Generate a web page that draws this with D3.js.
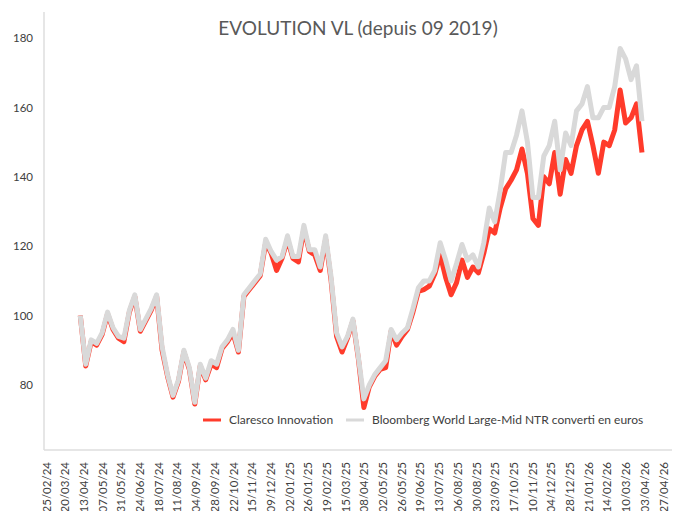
<!DOCTYPE html>
<html>
<head>
<meta charset="utf-8">
<script src="https://cdn.jsdelivr.net/npm/d3@7"></script>
<style>
  body { margin: 0; background: #fff; }
  svg { display: block; font-family: Lato, "Open Sans", sans-serif; }
</style>
</head>
<body>
<script>
// weekly points, first one on 09/04/2024
const startDate = "09/04/24"

const claresco = [
  100, 85.5, 92.5, 91.5, 94.5, 100.5, 96, 93.5, 92.5, 101,
  105.5, 95.5, 98.5, 101.5, 105.5, 90, 82.5, 76.5, 81, 89.5,
  84.5, 74.5, 85.5, 81.5, 86, 85, 90.5, 92.5, 95, 89.5,
  105.5, 107.5, 109.5, 111.5, 121, 118, 113, 116.5, 122, 116.5,
  115.5, 125, 118.5, 117.5, 113, 122, 110, 94, 89.5, 93.5,
  98.5, 87.5, 73.5, 79.5, 82.5, 84.5, 85, 95.5, 91.5, 94,
  96, 101, 107, 107.5, 108.5, 112, 117.5, 111, 106, 109.5,
  116, 111, 114, 112.3, 118, 125, 123.8, 131, 136.5, 139,
  142, 148, 141, 128, 126, 140, 138, 147, 135, 145,
  141, 149, 153.5, 156, 149, 141, 150, 149, 153.5, 165,
  155.5, 157, 161, 147
]

const bloomberg = [
  100, 86, 93, 92, 95, 101, 96.5, 94, 93.5, 101.5,
  106, 96, 99, 102, 106, 91, 83, 77, 81.5, 90,
  85, 75, 86, 82, 87, 86, 91, 93, 96, 90,
  106, 108, 110, 112, 122, 118.5, 116, 117, 123, 117,
  117, 126, 119, 119, 114, 123, 111, 95, 91, 94,
  99, 88, 76, 80, 83, 85, 87, 96, 93, 95,
  96.5, 102, 108, 110, 110, 113, 121, 116, 110, 115,
  120.5, 116, 117.5, 114, 121, 131, 127, 136, 147, 147,
  152, 159, 150, 134, 134, 146, 149, 156, 142, 152.6,
  149, 159, 161, 166, 157, 157, 160, 160, 166, 177,
  174, 168, 172, 156
]

const xTickLabels = [
  "25/02/24", "20/03/24", "13/04/24", "07/05/24", "31/05/24", "24/06/24",
  "18/07/24", "11/08/24", "04/09/24", "28/09/24", "22/10/24", "15/11/24",
  "09/12/24", "02/01/25", "26/01/25", "19/02/25", "15/03/25", "08/04/25",
  "02/05/25", "26/05/25", "19/06/25", "13/07/25", "06/08/25", "30/08/25",
  "23/09/25", "17/10/25", "10/11/25", "04/12/25", "28/12/25", "21/01/26",
  "14/02/26", "10/03/26", "03/04/26", "27/04/26"
]

const yTicks = [80, 100, 120, 140, 160, 180]

const seriesNames = ["Claresco Innovation", "Bloomberg World Large-Mid NTR converti en euros"]
const seriesColors = ["#ff3b2b", "#d9d9d9"]

window.onload = () => {
  const W = 674, H = 511
  const parse = d3.timeParse("%d/%m/%y")
  const fmt = d3.timeFormat("%d/%m/%y")

  const start = parse(startDate)
  const dates = claresco.map((_, i) => d3.timeDay.offset(start, 7 * i))
  const tickDates = xTickLabels.map(parse)

  const x = d3.scaleTime()
    .domain([tickDates[0], tickDates[tickDates.length - 1]])
    .range([46, 663])
  const y = d3.scaleLinear()
    .domain([80, 180])
    .range([385, 38])

  const svg = d3.select("body").append("svg")
    .attr("width", W)
    .attr("height", H)

  // frame lines
  svg.append("line")
    .attr("x1", 44).attr("x2", 44).attr("y1", 12).attr("y2", 450)
    .attr("stroke", "#dedede").attr("stroke-width", 1.5)
  svg.append("line")
    .attr("x1", 44).attr("x2", 672).attr("y1", 450).attr("y2", 450)
    .attr("stroke", "#dedede").attr("stroke-width", 1.5)

  svg.append("text")
    .attr("x", 358)
    .attr("y", 35)
    .attr("text-anchor", "middle")
    .attr("fill", "#595959")
    .attr("font-size", 19)
    .text("EVOLUTION VL (depuis 09 2019)")

  const yAxis = svg.append("g")
    .attr("transform", "translate(33,0)")
    .call(d3.axisLeft(y).tickValues(yTicks).tickSize(0).tickPadding(0))
  yAxis.select(".domain").remove()
  yAxis.selectAll("text")
    .attr("font-family", "Lato, sans-serif")
    .attr("font-size", 11.5)
    .attr("fill", "#404040")

  const xAxis = svg.append("g")
    .attr("transform", "translate(0,450)")
    .call(d3.axisBottom(x).tickValues(tickDates).tickFormat(fmt).tickSize(0))
  xAxis.select(".domain").remove()
  xAxis.selectAll("text")
    .attr("font-family", "Lato, sans-serif")
    .attr("font-size", 11.5)
    .attr("fill", "#404040")
    .attr("text-anchor", "end")
    .attr("transform", "rotate(-90)")
    .attr("x", -12)
    .attr("y", 0)
    .attr("dy", "0.35em")

  const line = d3.line()
    .x((d, i) => x(dates[i]))
    .y(d => y(d))

  const series = [claresco, bloomberg]
  series.forEach((s, k) => {
    svg.append("path")
      .datum(s)
      .attr("fill", "none")
      .attr("stroke", seriesColors[k])
      .attr("stroke-width", 5)
      .attr("stroke-linejoin", "round")
      .attr("d", line)
  })

  // legend
  const legend = svg.append("g").attr("transform", "translate(0,420)")
  const legendX = [203, 346]
  seriesNames.forEach((name, k) => {
    legend.append("line")
      .attr("x1", legendX[k]).attr("x2", legendX[k] + 18)
      .attr("stroke", seriesColors[k])
      .attr("stroke-width", 3)
    legend.append("text")
      .attr("x", legendX[k] + 26)
      .attr("dy", "0.35em")
      .attr("font-size", 12)
      .attr("fill", "#404040")
      .text(name)
  })
}
</script>
</body>
</html>
